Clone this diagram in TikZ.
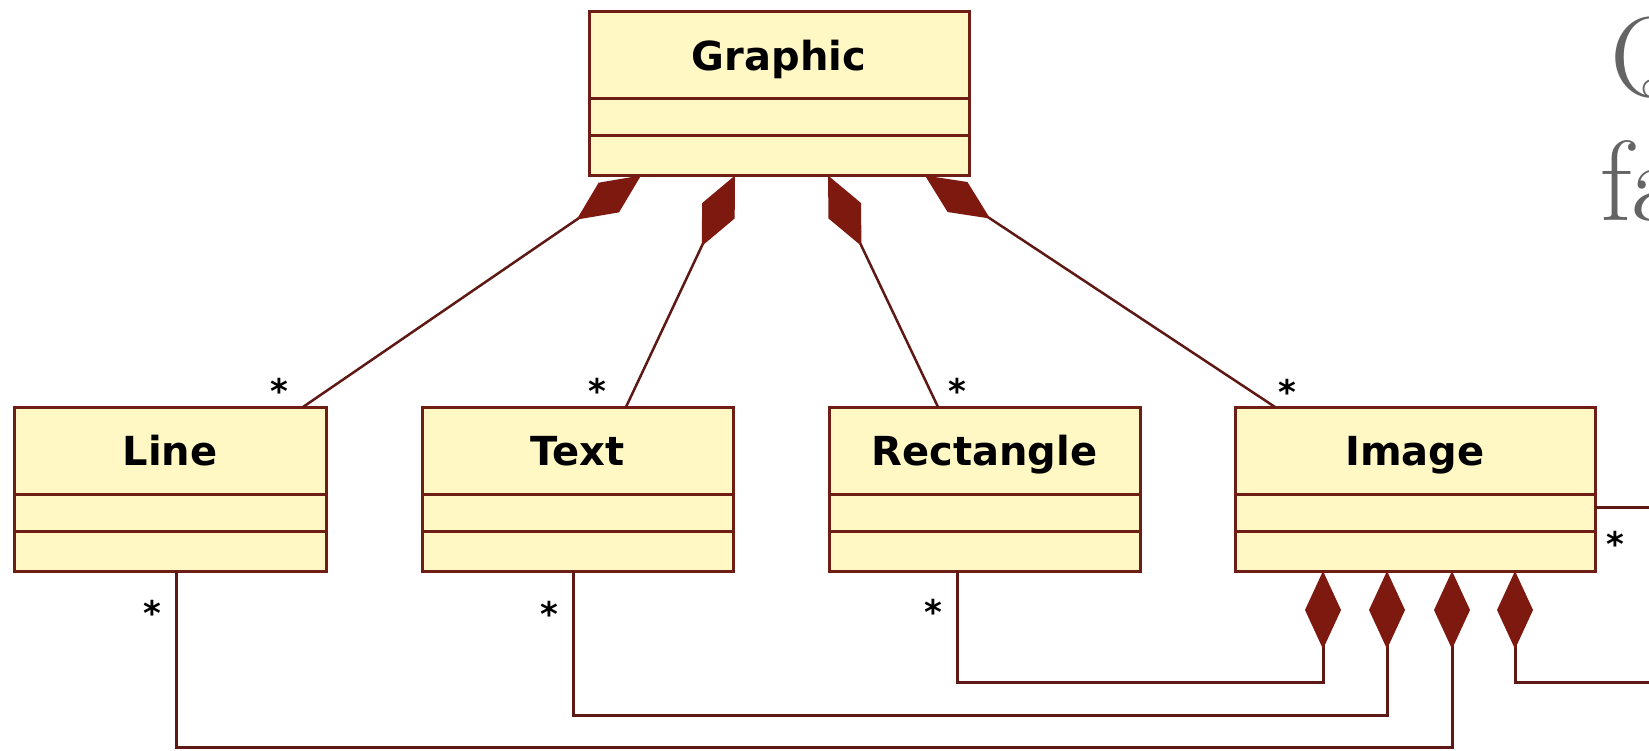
\documentclass[tikz,border=0pt]{standalone}
\usepackage{fontspec}
\newfontfamily\umlfont{DejaVu Sans}
\usetikzlibrary{arrows.meta}
\definecolor{clsborder}{RGB}{110,30,20}
\definecolor{clsfill}{RGB}{255,248,196}
\definecolor{diafill}{RGB}{125,25,15}
\definecolor{connline}{RGB}{95,25,20}
\definecolor{bigtext}{RGB}{100,100,100}
\begin{document}
\begin{tikzpicture}[x=1pt,y=-1pt,
  umlclass/.style={draw=clsborder, fill=clsfill, line width=3pt, minimum height=164pt, inner sep=0pt, outer sep=0pt,
    path picture={\draw[clsborder, line width=3pt]
      ([yshift=-87pt]path picture bounding box.north west) -- ([yshift=-87pt]path picture bounding box.north east)
      ([yshift=-124pt]path picture bounding box.north west) -- ([yshift=-124pt]path picture bounding box.north east);}},
  clsname/.style={font=\umlfont\bfseries\fontsize{40}{48}\selectfont, anchor=base, inner sep=0pt},
  mult/.style={font=\umlfont\bfseries\fontsize{34}{40}\selectfont, anchor=base, inner sep=0pt},
  conn/.style={draw=connline, line width=2.5pt},
  connb/.style={draw=connline, line width=3pt},
  comp/.style={-{Diamond[length=78pt, width=36pt, color=diafill]}},
  bigtxt/.style={font=\fontsize{114}{130}\selectfont, text=bigtext, anchor=base west, inner sep=0pt}]
\useasboundingbox (0,0) rectangle (1649,750);
\clip (0,0) rectangle (1649,750);

% classes
\node[umlclass, minimum width=380pt] (graphic) at (779,93.5) {};
\node[umlclass, minimum width=312pt] (line) at (170,489) {};
\node[umlclass, minimum width=311pt] (text) at (577.5,489) {};
\node[umlclass, minimum width=311pt] (rect) at (984.5,489) {};
\node[umlclass, minimum width=360pt] (image) at (1415,489) {};

\node[clsname] (graphicname) at (779,70) {Graphic};
\node[clsname] (linename) at (170,465) {Line};
\node[clsname] (textname) at (577.5,465) {Text};
\node[clsname] (rectname) at (984.5,465) {Rectangle};
\node[clsname] (imagename) at (1415,465) {Image};

% anchor points
\coordinate (g1) at ([xshift=52pt]graphic.south west);
\coordinate (g2) at ([xshift=146pt]graphic.south west);
\coordinate (g3) at ([xshift=239pt]graphic.south west);
\coordinate (g4) at ([xshift=336pt]graphic.south west);
\coordinate (lineT) at ([xshift=289pt]line.north west);
\coordinate (textT) at ([xshift=204pt]text.north west);
\coordinate (rectT) at ([xshift=109pt]rect.north west);
\coordinate (imageT) at ([xshift=40pt]image.north west);
\coordinate (lineB) at ([xshift=162pt]line.south west);
\coordinate (textB) at ([xshift=151pt]text.south west);
\coordinate (rectB) at ([xshift=128pt]rect.south west);
\coordinate (imgD1) at ([xshift=88pt]image.south west);
\coordinate (imgD2) at ([xshift=152pt]image.south west);
\coordinate (imgD3) at ([xshift=217pt]image.south west);
\coordinate (imgD4) at ([xshift=280pt]image.south west);
\coordinate (imgR) at ([yshift=-100pt]image.north east);
\coordinate (row1) at (0,682);
\coordinate (row2) at (0,715);
\coordinate (row3) at (0,747);
\coordinate (loopc) at (1700,0);

% compositions to Graphic
\draw[conn, comp] (lineT) -- (g1);
\draw[conn, comp] (textT) -- (g2);
\draw[conn, comp] (rectT) -- (g3);
\draw[conn, comp] (imageT) -- (g4);

% compositions to Image
\draw[connb, comp] (rectB) |- (row1 -| imgD1) -- (imgD1);
\draw[connb, comp] (textB) |- (row2 -| imgD2) -- (imgD2);
\draw[connb, comp] (lineB) |- (row3 -| imgD3) -- (imgD3);
\draw[connb, comp] (imgR) -- (imgR -| loopc) |- (row1 -| imgD4) -- (imgD4);

% multiplicities
\node[mult] (m1) at (279,403) {*};
\node[mult] (m2) at (597,403) {*};
\node[mult] (m3) at (957,403) {*};
\node[mult] (m4) at (1287,404) {*};
\node[mult] (m5) at (152,625) {*};
\node[mult] (m6) at (549,626) {*};
\node[mult] (m7) at (933,624) {*};
\node[mult] (m8) at (1615,556) {*};

% cropped large text
\node[bigtxt] (q) at (1610,96) {Q};
\node[bigtxt] (fa) at (1600,220) {fa};
\end{tikzpicture}
\end{document}
